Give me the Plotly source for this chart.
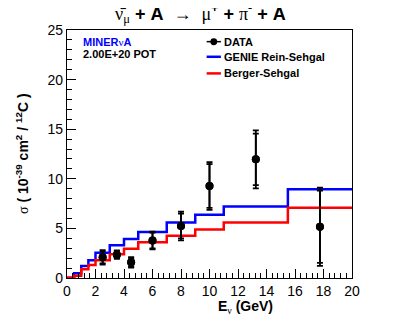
import plotly.graph_objects as go

# Bin edges (GeV) and model predictions
bin_edges = [0, 0.5, 1, 1.5, 2, 3, 4, 5, 7, 9, 11, 15.5, 20]
genie_rs = [0.02, 0.47, 1.2, 1.8, 2.55, 3.3, 3.93, 4.64, 5.6, 6.38, 7.22, 8.94]
berger_s = [0.02, 0.23, 0.87, 1.3, 1.78, 2.4, 2.96, 3.6, 4.27, 4.9, 5.6, 7.09]

# Data points
data_x = [2.5, 3.5, 4.5, 6, 8, 10, 13.25, 17.75]
data_y = [2.08, 2.35, 1.58, 3.78, 5.25, 9.27, 11.96, 5.17]
err_total = [0.72, 0.42, 0.52, 0.9, 1.45, 2.4, 2.93, 3.95]
err_stat = [0.6, 0.32, 0.42, 0.8, 1.25, 2.2, 2.6, 3.65]

x_ticks = [0, 2, 4, 6, 8, 10, 12, 14, 16, 18, 20]
y_ticks = [0, 5, 10, 15, 20, 25]

FONT = "Liberation Sans, Arial, sans-serif"
SERIF = "Liberation Serif"

fig = go.Figure()

fig.add_trace(go.Scatter(x=bin_edges, y=genie_rs + [genie_rs[-1]], mode="lines",
                         line=dict(color="#0000ff", width=2.5, shape="hv"),
                         name="GENIE Rein-Sehgal", showlegend=False))
fig.add_trace(go.Scatter(x=bin_edges, y=berger_s + [berger_s[-1]], mode="lines",
                         line=dict(color="#ff0000", width=2.5, shape="hv"),
                         name="Berger-Sehgal", showlegend=False))
fig.add_trace(go.Scatter(x=data_x, y=data_y, mode="markers",
                         marker=dict(color="black", size=8),
                         error_y=dict(type="data", array=err_total, color="black",
                                      thickness=1.8, width=3),
                         name="DATA", showlegend=False))
fig.add_trace(go.Scatter(x=data_x, y=data_y, mode="markers",
                         marker=dict(color="black", size=8),
                         error_y=dict(type="data", array=err_stat, color="black",
                                      thickness=1.8, width=3),
                         name="DATA stat", showlegend=False))

fig.update_xaxes(range=[0, 20], tickvals=x_ticks, ticks="inside", ticklen=9,
                 tickcolor="black", showline=True, linecolor="black", linewidth=1.2,
                 mirror=True, showgrid=False, zeroline=False,
                 minor=dict(dtick=0.4, ticks="inside", ticklen=5, tickcolor="black"),
                 tickfont=dict(family=FONT, size=14, color="black"))
fig.update_yaxes(range=[0, 25], tickvals=y_ticks, ticks="inside", ticklen=9,
                 tickcolor="black", showline=True, linecolor="black", linewidth=1.2,
                 mirror=True, showgrid=False, zeroline=False,
                 minor=dict(dtick=1, ticks="inside", ticklen=5, tickcolor="black"),
                 tickfont=dict(family=FONT, size=14, color="black"))

ann = []
# Title
ann.append(dict(xref="paper", yref="paper", x=0.467, y=1.0, yshift=17, xanchor="center", yanchor="middle",
                showarrow=False,
                text=(f"<span style='font-family:{SERIF}'>ν̄<sub>μ</sub></span> <b>+ A</b>  →  "
                      f"<span style='font-family:{SERIF}'>μ</span><b><sup>+</sup> +</b> "
                      f"<span style='font-family:{SERIF}'>π</span><b><sup>-</sup> + A</b>"),
                font=dict(family=FONT, size=18, color="black")))
# Axis titles
ann.append(dict(xref="paper", yref="paper", x=0.628, y=0, yshift=-29, xanchor="center", yanchor="middle",
                showarrow=False,
                text=f"<b>E</b><sub><span style='font-family:{SERIF}'>ν</span></sub><b> (GeV)</b>",
                font=dict(family=FONT, size=14, color="black")))
ann.append(dict(xref="paper", yref="paper", x=0, xshift=-45, y=0.5, xanchor="center", yanchor="middle",
                showarrow=False, textangle=-90,
                text=(f"<span style='font-family:{SERIF}'>σ</span><b> ( 10<sup>-39</sup> cm<sup>2</sup> / "
                      "<sup>12</sup>C )</b>"),
                font=dict(family=FONT, size=14, color="black")))
# MINERvA label
ann.append(dict(xref="paper", yref="paper", x=0.05, y=0.95, xanchor="left", yanchor="middle",
                showarrow=False, text=f"<b>MINER</b><span style='font-family:{SERIF}'>ν</span><b>A</b>",
                font=dict(family=FONT, size=11, color="#0000ff")))
ann.append(dict(xref="paper", yref="paper", x=0.05, y=0.905, xanchor="left", yanchor="middle",
                showarrow=False, text="<b>2.00E+20 POT</b>",
                font=dict(family=FONT, size=11, color="black")))
# Legend
leg_y = [0.953, 0.892, 0.825]
leg_txt = ["DATA", "GENIE Rein-Sehgal", "Berger-Sehgal"]
for yy, t in zip(leg_y, leg_txt):
    ann.append(dict(xref="paper", yref="paper", x=0.545, y=yy, xanchor="left", yanchor="middle",
                    showarrow=False, text=f"<b>{t}</b>",
                    font=dict(family=FONT, size=11, color="black")))

shapes = []
lx0, lx1 = 0.49, 0.54
shapes.append(dict(type="line", xref="paper", yref="paper", x0=lx0, x1=lx1, y0=leg_y[0], y1=leg_y[0],
                   line=dict(color="black", width=1.5)))
shapes.append(dict(type="circle", xref="paper", yref="paper", x0=0.515 - 0.012, x1=0.515 + 0.012,
                   y0=leg_y[0] - 0.014, y1=leg_y[0] + 0.014, fillcolor="black", line=dict(width=0)))
shapes.append(dict(type="line", xref="paper", yref="paper", x0=lx0, x1=lx1, y0=leg_y[1], y1=leg_y[1],
                   line=dict(color="#0000ff", width=2.5)))
shapes.append(dict(type="line", xref="paper", yref="paper", x0=lx0, x1=lx1, y0=leg_y[2], y1=leg_y[2],
                   line=dict(color="#ff0000", width=2.5)))

fig.update_layout(width=399, height=320, margin=dict(l=59, r=55, t=22, b=50),
                  paper_bgcolor="white", plot_bgcolor="white",
                  annotations=ann, shapes=shapes, showlegend=False,
                  font=dict(family=FONT, color="black"))

fig.write_html("out.html")
